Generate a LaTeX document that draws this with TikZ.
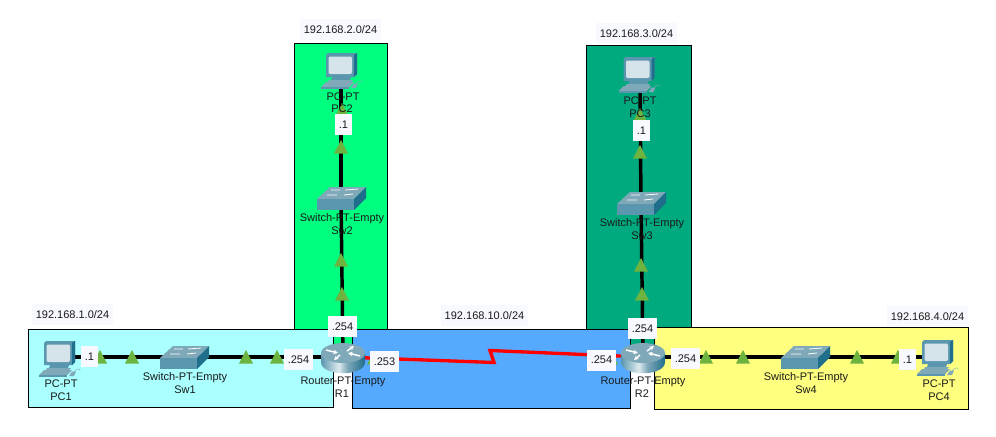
\documentclass[tikz,border=0pt]{standalone}
\usepackage{fontspec}
\setmainfont{Liberation Sans}
\usetikzlibrary{arrows.meta}
\definecolor{netcyan}{HTML}{AAFFFF}
\definecolor{netgreen}{HTML}{00FF7F}
\definecolor{netblue}{HTML}{55AAFF}
\definecolor{netdark}{HTML}{00AA7F}
\definecolor{netyellow}{HTML}{FFFF7F}
\definecolor{boxbg}{HTML}{F8F8FF}
\definecolor{linkdot}{HTML}{6DB33F}
\definecolor{txt}{HTML}{1A1A1A}
\definecolor{devtop}{HTML}{7FA8B8}
\definecolor{devmid}{HTML}{5A96AE}
\definecolor{devdark}{HTML}{1F6E8C}
\definecolor{screen}{HTML}{D5E3EA}
\pgfdeclarehorizontalshading{routerside}{100bp}{
  color(0bp)=(devmid); color(25bp)=(devmid); color(45bp)=(white!80!devmid);
  color(55bp)=(devtop); color(75bp)=(devdark); color(100bp)=(devmid)}
\tikzset{
  x=0.75pt,y=-0.75pt,
  netrect/.style={draw=black,line width=0.75pt},
  lan/.style={draw=black,line width=2.6pt},
  serial/.style={draw=red,line width=2.5pt},
  anchorpt/.style={inner sep=0pt,minimum size=0pt,outer sep=0pt},
  devlabel/.style={anchor=base,inner sep=0pt,text=txt,font=\fontsize{8.25}{10}\selectfont},
  ipbox/.style={fill=boxbg,text=txt,inner sep=0pt,minimum height=15.75pt,font=\fontsize{8.25}{10}\selectfont},
  ipshort/.style={ipbox,minimum width=12.75pt},
  iplong/.style={ipbox,minimum width=21.75pt},
  netlabel/.style={ipbox,minimum width=60.75pt},
  pcicon/.pic={
    \fill[devmid] (0,2)--(2,0)--(31,0)--(31,21)--(28,24)--(0,24)--cycle;
    \fill[devdark] (28,2)--(31,0)--(31,21)--(28,24)--cycle;
    \fill[screen,rounded corners=1pt] (2.5,3.5) rectangle (26,21);
    \fill[devmid] (6,24)--(25,24)--(24,27)--(5,27)--cycle;
    \fill[devtop] (3,27)--(27,27)--(25,29)--(2,29)--cycle;
    \fill[devtop] (-5,34)--(0,29)--(28,29)--(23,34)--cycle;
    \fill[devmid] (-5,34)--(23,34)--(23,35.5)--(-5,35.5)--cycle;
    \fill[devtop] (25,35)--(28,30.5)--(32,30.5)--(30,35)--cycle;
    \draw[devtop,line width=0.3pt] (30,31) .. controls (33,27) and (37,27) .. (36,30);
  },
  switchicon/.pic={
    \fill[devtop] (0,12)--(13,0)--(49,0)--(37,12)--cycle;
    \fill[devmid] (0,12)--(37,12)--(37,23)--(0,23)--cycle;
    \fill[devdark] (37,12)--(49,0)--(49,11)--(37,23)--cycle;
    \draw[white,line width=0.6pt] (14,3)--(23,3) (28,3)--(41,2) (10,8)--(20,8) (27,8)--(36,7);
  },
  routericon/.pic={
    \shade[shading=routerside] (-22,0)--(-22,9) .. controls (-22,24) and (22,24) .. (22,9)--(22,0)--cycle;
    \fill[devtop] (0,0) ellipse [x radius=16.5pt,y radius=7.5pt];
    \draw[white,line width=1.1pt,-{Stealth[length=3.4pt,width=3.4pt]}] (-17,-3)--(-5,0);
    \draw[white,line width=1.1pt,-{Stealth[length=3.4pt,width=3.4pt]}] (4,-2)--(11,-7);
    \draw[white,line width=1.1pt,-{Stealth[length=3.4pt,width=3.4pt]}] (17,3)--(5,0);
    \draw[white,line width=1.1pt,-{Stealth[length=3.4pt,width=3.4pt]}] (-3,2)--(-9,7);
  }
}
\begin{document}
\begin{tikzpicture}
\useasboundingbox (0,0) rectangle (996,436);
% network areas
\filldraw[netrect,fill=netgreen] (294.5,43.5) rectangle (387.5,352);
\filldraw[netrect,fill=netdark] (586.5,45.5) rectangle (691.5,352);
\filldraw[netrect,fill=netcyan] (28.5,329.5) rectangle (333.5,407.5);
\filldraw[netrect,fill=netblue] (352.5,329.5) rectangle (630,408.5);
\filldraw[netrect,fill=netyellow] (654.5,327.5) rectangle (968.5,409.5);
% device anchors
\node[anchorpt] (pc1) at (60,357) {};
\node[anchorpt] (sw1) at (185,357) {};
\node[anchorpt] (r1) at (343,357) {};
\node[anchorpt] (pc2) at (341,80) {};
\node[anchorpt] (sw2) at (341,200) {};
\node[anchorpt] (pc3) at (640,80) {};
\node[anchorpt] (sw3) at (641,204) {};
\node[anchorpt] (r2) at (643,357) {};
\node[anchorpt] (sw4) at (806,357) {};
\node[anchorpt] (pc4) at (938,357) {};
\coordinate (bend1) at (494,362.5);
\coordinate (bend2) at (490,350.5);
% link lights under the serial line
\foreach \px/\py in {374/351,611/351}
  \fill[linkdot] (\px,\py)--++(7,13.5)--++(-14,0)--cycle;
% connectors
\draw[lan] (pc1.center)--(sw1.center);
\draw[lan] (sw1.center)--(r1.center);
\draw[lan] (pc2.center)--(sw2.center);
\draw[lan] (sw2.center)--(r1.center);
\draw[lan] (pc3.center)--(sw3.center);
\draw[lan] (sw3.center)--(r2.center);
\draw[lan] (r2.center)--(sw4.center);
\draw[lan] (sw4.center)--(pc4.center);
\draw[serial] (r1.center)--(bend1)--(bend2)--(r2.center);
% link lights
\foreach \px/\py in {100/350,132/350,246/350,277/350,
  342/103,341/140,341/253,342/287,
  640/108,640/145,641/258,642/287,
  706/350,743/350,857/350,898/350}
  \fill[linkdot] (\px,\py)--++(7,13.5)--++(-14,0)--cycle;
% device icons
\pic at (44,341) {pcicon};
\pic at (326,53) {pcicon};
\pic at (623.5,57) {pcicon};
\pic at (922,340) {pcicon};
\pic at (160,346) {switchicon};
\pic at (317,187) {switchicon};
\pic at (617,192) {switchicon};
\pic at (781,346) {switchicon};
\pic at (343,353) {routericon};
\pic at (643,353) {routericon};
% device labels
\node[devlabel] (lpc1a) at (61,387) {PC-PT};
\node[devlabel] (lpc1b) at (61,400) {PC1};
\node[devlabel] (lsw1a) at (185,380) {Switch-PT-Empty};
\node[devlabel] (lsw1b) at (185,393) {Sw1};
\node[devlabel] (lr1a) at (343,384) {Router-PT-Empty};
\node[devlabel] (lr1b) at (342,397) {R1};
\node[devlabel] (lpc2a) at (343,100) {PC-PT};
\node[devlabel] (lpc2b) at (342,112) {PC2};
\node[devlabel] (lsw2a) at (342,221) {Switch-PT-Empty};
\node[devlabel] (lsw2b) at (342,234) {Sw2};
\node[devlabel] (lpc3a) at (640,104) {PC-PT};
\node[devlabel] (lpc3b) at (640,117) {PC3};
\node[devlabel] (lsw3a) at (642,226) {Switch-PT-Empty};
\node[devlabel] (lsw3b) at (642,239) {Sw3};
\node[devlabel] (lr2a) at (643,384) {Router-PT-Empty};
\node[devlabel] (lr2b) at (642,397) {R2};
\node[devlabel] (lsw4a) at (806,380) {Switch-PT-Empty};
\node[devlabel] (lsw4b) at (806,393) {Sw4};
\node[devlabel] (lpc4a) at (939,387) {PC-PT};
\node[devlabel] (lpc4b) at (939,400) {PC4};
% address boxes
\node[ipshort] (a1) at (89.5,356.5) {.1};
\node[ipshort] (a2) at (343.5,124.5) {.1};
\node[ipshort] (a3) at (641.5,130.5) {.1};
\node[ipshort] (a4) at (907.5,359.5) {.1};
\node[iplong] (b1) at (298.5,359.5) {.254};
\node[iplong] (b2) at (342.5,326.5) {.254};
\node[iplong] (b3) at (384.5,361.5) {.253};
\node[iplong] (b4) at (601.5,360) {.254};
\node[iplong] (b5) at (642.5,328.5) {.254};
\node[iplong] (b6) at (685.5,358.5) {.254};
% network labels
\node[netlabel] (n1) at (72.5,314.5) {192.168.1.0/24};
\node[netlabel] (n2) at (340.5,29.5) {192.168.2.0/24};
\node[netlabel] (n3) at (636.5,33.5) {192.168.3.0/24};
\node[netlabel] (n4) at (927.5,316.5) {192.168.4.0/24};
\node[netlabel,minimum width=65.25pt] (n5) at (484.5,315.5) {192.168.10.0/24};
\end{tikzpicture}
\end{document}
